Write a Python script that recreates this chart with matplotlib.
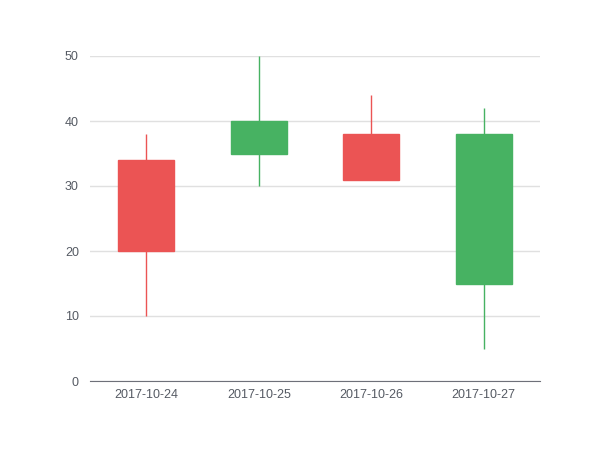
import matplotlib
matplotlib.use("Agg")
import matplotlib.pyplot as plt

# candlestick data: open, close, low, high
dates = ["2017-10-24", "2017-10-25", "2017-10-26", "2017-10-27"]
opens = [20, 40, 31, 38]
closes = [34, 35, 38, 15]
lows = [10, 30, 33, 5]
highs = [38, 50, 44, 42]
y_ticks = [0, 10, 20, 30, 40, 50]

UP = "#eb5454"
DOWN = "#47b262"
LABEL = "#6E7079"
GRID = "#E0E0E0"

plt.rcParams["font.family"] = ["Liberation Sans", "DejaVu Sans"]

fig = plt.figure(figsize=(6, 4.5), dpi=100)
ax = fig.add_axes([0.15, 1 - 381 / 450, 0.75, (381 - 56) / 450])

for i, (o, c, lo, hi) in enumerate(zip(opens, closes, lows, highs)):
    col = UP if c > o else DOWN
    ax.vlines(i, lo, hi, color=col, lw=1, zorder=2)
    ax.bar(i, abs(c - o), bottom=min(o, c), width=0.5, color=col,
           edgecolor=col, lw=1, zorder=3)

ax.set_xlim(-0.5, len(dates) - 0.5)
ax.set_ylim(0, 50)
ax.set_xticks(range(len(dates)))
ax.set_xticklabels(dates)
ax.set_yticks(y_ticks)
ax.tick_params(axis="both", length=0, colors="#555a63", labelsize=9)
ax.tick_params(axis="x", pad=6)
ax.tick_params(axis="y", pad=8)
ax.grid(axis="y", color=GRID, lw=1, zorder=0)
for s in ["top", "right", "left"]:
    ax.spines[s].set_visible(False)
ax.spines["bottom"].set_color(LABEL)
ax.spines["bottom"].set_zorder(4)

fig.savefig("out.png", dpi=100)
